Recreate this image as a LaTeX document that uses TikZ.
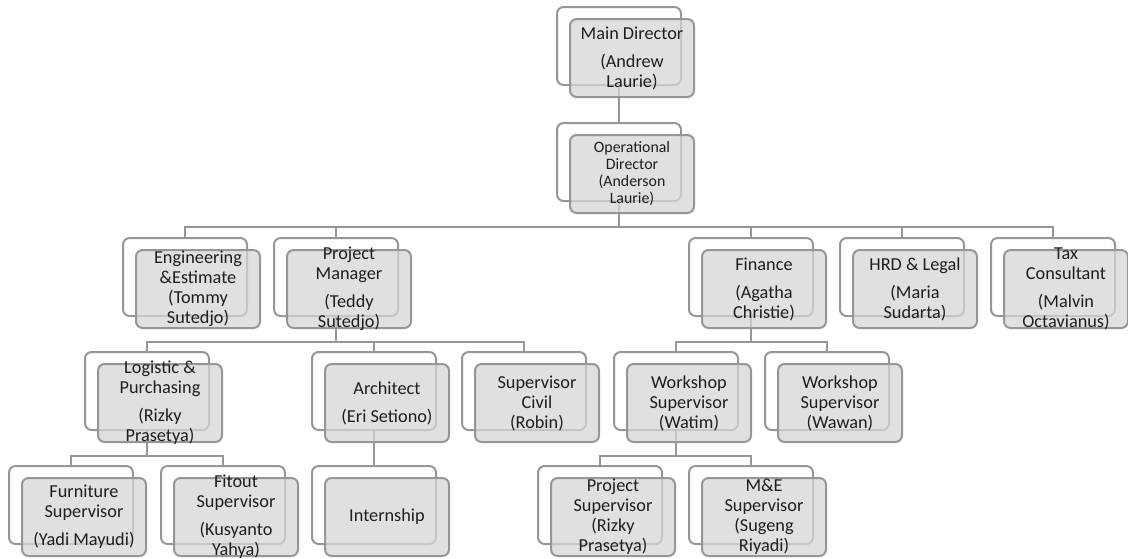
\documentclass[tikz,border=0pt]{standalone}
\usepackage{fontspec}
\setmainfont{Carlito}

\definecolor{edgegray}{RGB}{150,150,150}
\definecolor{boxgray}{RGB}{214,214,214}
\definecolor{inkgray}{RGB}{30,30,30}

\tikzset{
  backbox/.style={draw=edgegray, fill=white, line width=1.5pt, rounded corners=5pt,
    minimum width=93pt, minimum height=58.5pt, inner sep=0pt},
  frontbox/.style={draw=edgegray, fill=boxgray, fill opacity=0.75, line width=1.5pt,
    rounded corners=5pt, minimum width=93pt, minimum height=58.5pt, inner sep=0pt},
  boxtext/.style={text=inkgray, align=center, inner sep=0pt,
    font=\fontsize{13.7}{15}\selectfont},
  smalltext/.style={boxtext, font=\fontsize{11.9}{12.75}\selectfont},
  link/.style={draw=edgegray, line width=1.5pt},
}

\begin{document}
\begin{tikzpicture}[x=0.75pt, y=-0.75pt]
\useasboundingbox (0,0) rectangle (1128,558);
%%   back boxes   (name)   (x, y)
\foreach \n/\x/\y in {main/619/46, ops/619/162,
    eng/185/277, pm/336/277, fin/751/277, hrd/902/277, tax/1053/277,
    log/147/391, arch/374/391, civ/524/391, wat/676/391, waw/827/391,
    furn/71/505, fit/223/505, intern/374/505, psup/600/505, me/751/505}
  \node[backbox] (\n) at (\x,\y) {};

%%   connectors
\draw[link] (main.south) -- (ops.north);
\draw[link] (ops.south) -- ++(0,25) coordinate (bus1);
\draw[link] (eng.north) |- (bus1) -| (tax.north);
\draw[link] (pm.north) -- (pm.north |- bus1);
\draw[link] (fin.north) -- (fin.north |- bus1);
\draw[link] (hrd.north) -- (hrd.north |- bus1);
\draw[link] (pm.south) -- ++(0,25) coordinate (bus2);
\draw[link] (log.north) |- (bus2) -| (civ.north);
\draw[link] (arch.north) -- (arch.north |- bus2);
\draw[link] (fin.south) -- ++(0,25) coordinate (bus3);
\draw[link] (wat.north) |- (bus3) -| (waw.north);
\draw[link] (log.south) -- ++(0,25) coordinate (bus4);
\draw[link] (furn.north) |- (bus4) -| (fit.north);
\draw[link] (arch.south) -- (intern.north);
\draw[link] (wat.south) -- ++(0,25) coordinate (bus5);
\draw[link] (psup.north) |- (bus5) -| (me.north);

%%   front boxes   (name-f)   {text}
\foreach \n/\s/\t in {
    main/boxtext/{Main Director\\[6pt](Andrew\\Laurie)},
    ops/smalltext/{Operational\\Director\\(Anderson\\Laurie)},
    eng/boxtext/{Engineering\\\&Estimate\\(Tommy\\Sutedjo)},
    pm/boxtext/{Project\\Manager\\[6pt](Teddy\\Sutedjo)},
    fin/boxtext/{Finance\\[6pt](Agatha\\Christie)},
    hrd/boxtext/{HRD \& Legal\\[6pt](Maria\\Sudarta)},
    tax/boxtext/{Tax\\Consultant\\[6pt](Malvin\\Octavianus)},
    log/boxtext/{Logistic \&\\Purchasing\\[6pt](Rizky\\Prasetya)},
    arch/boxtext/{Architect\\[6pt](Eri Setiono)},
    civ/boxtext/{Supervisor\\Civil\\(Robin)},
    wat/boxtext/{Workshop\\Supervisor\\(Watim)},
    waw/boxtext/{Workshop\\Supervisor\\(Wawan)},
    furn/boxtext/{Furniture\\Supervisor\\[6pt](Yadi Mayudi)},
    fit/boxtext/{Fitout\\Supervisor\\[6pt](Kusyanto\\Yahya)},
    intern/boxtext/{Internship},
    psup/boxtext/{Project\\Supervisor\\(Rizky\\Prasetya)},
    me/boxtext/{M\&E\\Supervisor\\(Sugeng\\Riyadi)}}
{
  \node[frontbox] (\n-f) at ([shift={(13,12)}]\n.center) {};
  \node[\s] (\n-t) at (\n-f.center) {\t};
}
\end{tikzpicture}
\end{document}
